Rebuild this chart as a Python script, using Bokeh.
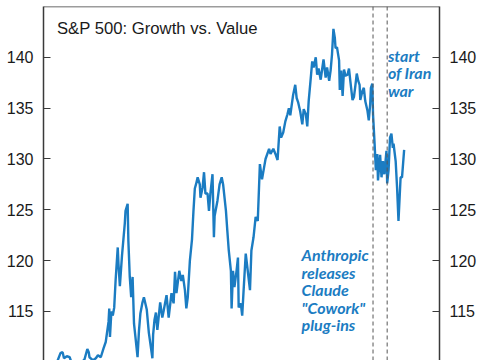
from bokeh.plotting import figure
from bokeh.models import Range1d, LinearAxis, FixedTicker, Span, Label
from bokeh.embed import file_html
from bokeh.resources import INLINE

# ---------------- data ----------------
days = [
    0, 10, 19, 24, 27, 29, 33, 37, 39, 46,
    53, 58, 62, 64, 65, 70, 74, 77, 81, 85,
    88, 92, 93, 94, 96, 98, 100, 102, 105, 106,
    108, 111, 113, 115, 116, 119, 120, 122, 124, 126,
    128, 130, 133, 135, 137, 140, 142, 146, 149, 153,
    154, 155, 157, 159, 161, 165, 168, 170, 174, 177,
    181, 184, 186, 188, 192, 195, 197, 200, 202, 204,
    207, 210, 212, 214, 216, 218, 221, 222, 225, 227,
    229, 232, 234, 236, 239, 241, 242, 246, 249, 252,
    254, 258, 260, 262, 265, 266, 268, 270, 273, 275,
    276, 279, 281, 283, 286, 288, 292, 294, 297, 300,
    303, 306, 309, 312, 314, 319, 321, 325, 328, 331,
    334, 336, 339, 342, 345, 347, 349, 353, 356, 358,
    360, 363, 366, 368, 371, 373, 375, 378, 380, 382,
    385, 387, 389, 392, 394, 396, 399, 401, 404, 406,
    408, 410, 412, 413, 415, 418, 419, 421, 423, 425,
    427, 430, 432, 434, 437, 439, 441, 443, 445, 447,
    448, 451, 453, 455, 458, 460, 462, 463, 465, 466,
    468, 470, 472, 473, 476, 478, 480, 482, 485, 486,
    488, 490, 492, 494, 495, 498, 500, 502, 505, 507,
    510,
]
growth_vs_value = [
    109.5, 109.8, 110.0, 110.9, 111.0, 110.4, 110.6, 110.5, 110.1, 109.8,
    109.9, 110.3, 111.3, 111.0, 110.5, 110.2, 110.4, 110.7, 110.5, 111.4,
    112.0, 114.0, 115.3, 112.5, 115.0, 114.6, 115.4, 118.1, 121.3, 119.7,
    117.5, 120.5, 122.1, 123.7, 124.9, 125.6, 122.0, 118.4, 116.4, 118.4,
    113.8, 112.5, 110.5, 113.1, 114.8, 115.9, 116.4, 115.2, 112.9, 110.9,
    110.4, 112.7, 114.2, 114.9, 113.2, 115.9, 114.4, 115.1, 116.6, 114.4,
    116.8, 115.8, 118.9, 116.8, 119.0, 118.0, 118.6, 117.1, 115.3, 116.4,
    120.0, 122.1, 124.8, 127.1, 127.6, 128.2, 127.5, 126.2, 127.2, 128.7,
    126.6, 126.6, 124.9, 126.6, 128.5, 122.3, 124.4, 125.9, 127.5, 128.2,
    127.5, 124.9, 122.9, 121.0, 119.0, 115.3, 119.0, 117.4, 119.0, 120.3,
    115.4, 115.8, 114.6, 117.1, 120.7, 119.5, 117.1, 121.0, 122.3, 124.3,
    123.9, 129.5, 128.0, 129.2, 130.0, 131.0, 130.5, 131.0, 130.5, 129.9,
    133.2, 132.1, 132.6, 133.7, 134.4, 135.0, 134.3, 136.3, 137.3, 136.0,
    135.6, 134.7, 133.4, 134.9, 134.4, 133.2, 135.7, 138.0, 139.6, 139.0,
    140.0, 138.3, 138.9, 137.8, 138.8, 139.8, 138.0, 139.0, 137.7, 138.7,
    140.3, 142.8, 141.9, 140.9, 141.0, 139.7, 136.8, 138.7, 136.2, 138.8,
    138.2, 138.3, 138.9, 137.6, 135.8, 136.1, 137.2, 138.4, 137.7, 137.3,
    135.8, 136.7, 137.0, 135.7, 134.8, 133.8, 135.4, 137.0, 137.4, 134.4,
    131.8, 128.9, 130.5, 127.9, 130.4, 128.2, 129.8, 128.5, 130.8, 127.6,
    128.9, 132.1, 132.5, 131.1, 131.5, 129.8, 127.2, 123.9, 128.2, 128.2,
    130.9,
]
y_ticks = [110, 115, 120, 125, 130, 135, 140]
event_days = [466, 486]          # Anthropic Cowork plug-ins, start of Iran war
event_texts = ['Anthropic\nreleases\nClaude\n"Cowork"\nplug-ins', "start\nof Iran\nwar"]
title_text = "S&P 500: Growth vs. Value"

# ---------------- layout constants ----------------
X_START, X_END = 0, 560
Y_BOTTOM, Y_TOP = 110.18, 145.0
BLUE = "#1b7cc2"
DARK = "#3a3a3a"

p = figure(width=485, height=360,
           x_range=Range1d(X_START, X_END), y_range=Range1d(Y_BOTTOM, Y_TOP),
           output_backend="svg", toolbar_location=None,
           x_axis_location=None, y_axis_location=None,
           min_border_left=43, min_border_right=46,
           min_border_top=6, min_border_bottom=0)
p.outline_line_color = None
p.grid.grid_line_color = None
p.background_fill_color = "white"
p.border_fill_color = "white"


def make_axis():
    ax = LinearAxis(ticker=FixedTicker(ticks=y_ticks))
    ax.axis_line_color = DARK
    ax.axis_line_width = 1.5
    ax.major_tick_line_color = DARK
    ax.major_tick_line_width = 1.2
    ax.major_tick_in = 7
    ax.major_tick_out = 0
    ax.minor_tick_line_color = None
    ax.major_label_text_font = "Liberation Sans"
    ax.major_label_text_font_size = "16px"
    ax.major_label_text_color = "#1a1a1a"
    ax.major_label_standoff = 10
    return ax


p.add_layout(make_axis(), "left")
p.add_layout(make_axis(), "right")

# top border of the frame
p.add_layout(Span(location=Y_TOP, dimension="width", line_color=DARK, line_width=1.5))

for d in event_days:
    p.add_layout(Span(location=d, dimension="height", line_color="#555555",
                      line_width=1, line_dash="4 3"))

p.line(days, growth_vs_value, line_color=BLUE, line_width=2.4)

p.add_layout(Label(x=19, y=142.82, text=title_text, text_font="Liberation Sans",
                   text_font_size="16.7px", text_color="#1a1a1a",
                   text_baseline="alphabetic"))

p.add_layout(Label(x=365, y=121.5, text=event_texts[0], text_font="Lato",
                   text_font_size="16px", text_font_style="bold italic",
                   text_color=BLUE, text_baseline="top", text_line_height=0.92))
p.add_layout(Label(x=487, y=141.15, text=event_texts[1], text_font="Lato",
                   text_font_size="16px", text_font_style="bold italic",
                   text_color=BLUE, text_baseline="top", text_line_height=0.92))

open("out.html", "w").write(file_html(p, INLINE))
